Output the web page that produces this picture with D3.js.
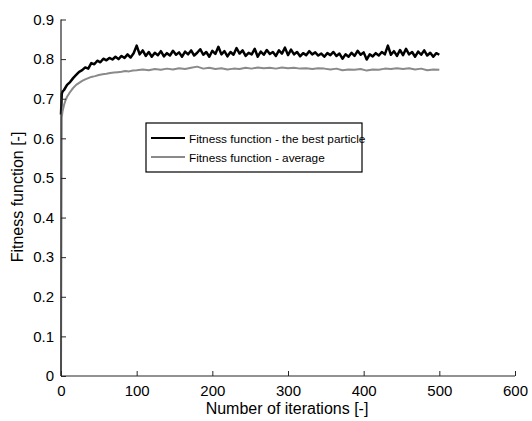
<!DOCTYPE html>
<html>
<head>
<meta charset="utf-8">
<script src="https://cdn.jsdelivr.net/npm/d3@7"></script>
<style>
  html, body { margin: 0; padding: 0; background: #fff; }
  svg text { font-family: "Liberation Sans", Arial, sans-serif; fill: #000; }
</style>
</head>
<body>
<svg id="chart" width="532" height="421"></svg>
<script>
// ---- data ----
const xTicks = [0, 100, 200, 300, 400, 500, 600];
const yTicks = [0, 0.1, 0.2, 0.3, 0.4, 0.5, 0.6, 0.7, 0.8, 0.9];
const yTickLabels = ["0", "0.1", "0.2", "0.3", "0.4", "0.5", "0.6", "0.7", "0.8", "0.9"];
const seriesNames = ["Fitness function - the best particle", "Fitness function - average"];
const xTitle = "Number of iterations [-]";
const yTitle = "Fitness function [-]";

const bestIter = [0,1,2,4,8,12,16,20,24,28,32,36,40,44,48,52,56,60,64,68,72,76,80,84,88,92,96,
  100,104,108,112,116,120,124,128,132,136,140,144,148,152,156,160,164,168,172,176,180,184,188,192,196,
  200,204,208,212,216,220,224,228,232,236,240,244,248,252,256,260,264,268,272,276,280,284,288,292,296,
  300,304,308,312,316,320,324,328,332,336,340,344,348,352,356,360,364,368,372,376,380,384,388,392,396,
  400,404,408,412,416,420,424,428,432,436,440,444,448,452,456,460,464,468,472,476,480,484,488,492,496,500];
const bestVal = [0.660,0.712,0.718,0.722,0.735,0.742,0.752,0.760,0.768,0.772,0.779,0.776,0.790,0.787,0.796,0.792,0.801,0.797,0.803,0.799,0.806,0.800,0.808,0.803,0.812,0.804,0.815,
  0.834,0.812,0.822,0.808,0.818,0.806,0.816,0.810,0.820,0.807,0.815,0.809,0.821,0.811,0.817,0.806,0.819,0.812,0.822,0.809,0.816,0.825,0.811,0.818,0.806,
  0.821,0.813,0.831,0.812,0.820,0.807,0.818,0.811,0.828,0.814,0.822,0.808,0.816,0.812,0.826,0.806,0.819,0.811,0.823,0.813,0.818,0.808,0.822,0.814,0.829,
  0.810,0.824,0.812,0.818,0.807,0.815,0.810,0.820,0.812,0.817,0.809,0.814,0.806,0.815,0.810,0.818,0.808,0.814,0.801,0.812,0.806,0.816,0.808,0.821,0.811,
  0.817,0.799,0.812,0.807,0.815,0.809,0.818,0.812,0.834,0.811,0.820,0.808,0.823,0.810,0.826,0.812,0.818,0.806,0.819,0.811,0.822,0.809,0.816,0.806,0.815,0.811];

const avgIter = [0,1,2,4,6,8,11,14,17,20,24,28,32,36,40,45,50,55,60,65,70,75,80,85,90,95,100,
  108,116,124,132,140,148,156,164,172,180,188,196,204,212,220,228,236,244,252,260,268,276,284,292,
  300,308,316,324,332,340,348,356,364,372,380,388,396,404,412,420,428,436,444,452,460,468,476,484,492,500];
const avgVal = [0.000,0.652,0.668,0.684,0.696,0.705,0.714,0.722,0.729,0.735,0.740,0.745,0.749,0.752,0.755,0.757,0.760,0.762,0.763,0.765,0.766,0.767,0.768,0.770,0.769,0.771,0.772,
  0.774,0.772,0.775,0.773,0.776,0.774,0.777,0.775,0.778,0.781,0.776,0.778,0.775,0.777,0.774,0.776,0.775,0.778,0.776,0.779,0.777,0.778,0.776,0.779,
  0.777,0.778,0.776,0.777,0.775,0.777,0.776,0.774,0.776,0.772,0.774,0.773,0.775,0.771,0.774,0.773,0.776,0.775,0.777,0.775,0.777,0.774,0.776,0.772,0.774,0.773];

// ---- drawing ----
const svg = d3.select("#chart");
const x = d3.scaleLinear().domain([0, 600]).range([61, 515]);
const y = d3.scaleLinear().domain([0, 0.9]).range([376, 19.5]);

const bestData = bestIter.map((d, i) => [d, bestVal[i]]);
const avgData = avgIter.map((d, i) => [d, avgVal[i]]);
const line = d3.line().x(d => x(d[0])).y(d => y(d[1]));

svg.append("path").datum(bestData).attr("d", line)
  .attr("fill", "none").attr("stroke", "#000").attr("stroke-width", 2.5).attr("stroke-linejoin", "round");
svg.append("path").datum(avgData).attr("d", line)
  .attr("fill", "none").attr("stroke", "#8a8a8a").attr("stroke-width", 2).attr("stroke-linejoin", "round");

// axes (ticks inward)
const xAxis = d3.axisBottom(x).tickValues(xTicks).tickSize(-5).tickPadding(9).tickFormat(d3.format("d"));
const gx = svg.append("g").attr("transform", "translate(0,376)").call(xAxis);
const yAxis = d3.axisLeft(y).tickValues(yTicks).tickSize(-5).tickPadding(7).tickFormat((d, i) => yTickLabels[i]);
const gy = svg.append("g").attr("transform", "translate(61,0)").call(yAxis);
[gx, gy].forEach(g => {
  g.select(".domain").attr("stroke", "#262626").attr("stroke-width", 1.2);
  g.selectAll(".tick line").attr("stroke", "#262626");
  g.selectAll(".tick text").attr("font-size", 15).attr("font-family", "Liberation Sans, Arial, sans-serif").attr("fill", "#000");
});
gx.select(".domain").attr("d", "M61,0H515");
gy.select(".domain").attr("d", "M0,376V19.5");

svg.append("text").attr("x", 287).attr("y", 414).attr("text-anchor", "middle")
  .attr("font-size", 16).text(xTitle);
svg.append("text").attr("transform", "translate(23,197) rotate(-90)").attr("text-anchor", "middle")
  .attr("font-size", 16).text(yTitle);

// legend
const lg = svg.append("g");
lg.append("rect").attr("x", 146).attr("y", 123).attr("width", 216).attr("height", 49)
  .attr("fill", "#fff").attr("stroke", "#000").attr("stroke-width", 1.2);
const legColors = ["#000", "#8a8a8a"];
seriesNames.forEach((n, i) => {
  const yy = 138 + i * 19;
  lg.append("line").attr("x1", 151).attr("x2", 185).attr("y1", yy).attr("y2", yy)
    .attr("stroke", legColors[i]).attr("stroke-width", 2);
  lg.append("text").attr("x", 189).attr("y", yy + 4.5).attr("font-size", 11.8).text(n);
});
</script>
</body>
</html>
